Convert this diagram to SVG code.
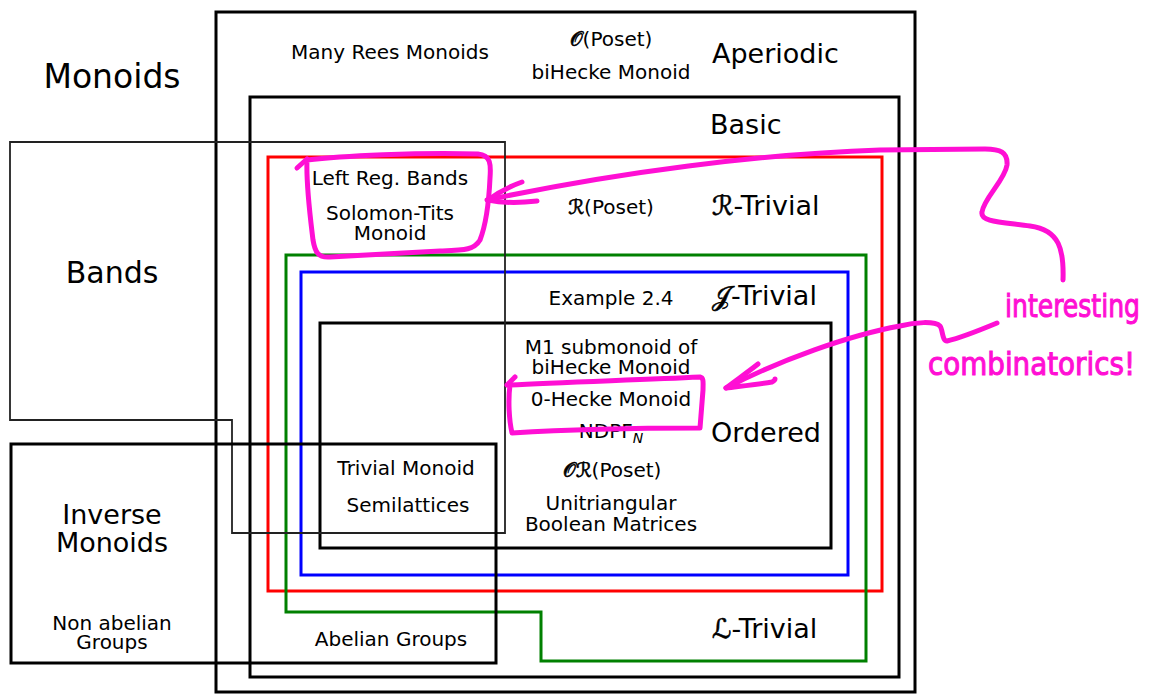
<svg xmlns="http://www.w3.org/2000/svg" width="1155" height="694" viewBox="0 0 1155 694">
<style>
 text { font-family: "DejaVu Sans", "Noto Sans", sans-serif; fill: #000; }
 .s { font-size: 20px; text-anchor: middle; }
 .l { font-size: 27px; }
 .m { text-anchor: middle; }
 .cal { stroke: #000; stroke-width: 0.6; }
 .box { fill: none; stroke: #000; stroke-width: 3; }
 .thin { fill: none; stroke: #222; stroke-width: 1.8; }
 .hand { fill: none; stroke: #ff0fd4; stroke-width: 5; stroke-linecap: round; stroke-linejoin: round; }
 .hw { font-family: "Liberation Sans Narrow", "DejaVu Sans Condensed", sans-serif; fill: #ff0fd4; stroke: #ff0fd4; stroke-width: 1; font-size: 32px; }
</style>
<rect width="1155" height="694" fill="#fff"/>

<g id="universe">
 <text class="m" x="112" y="88" font-size="33">Monoids</text>
</g>

<g id="aperiodic">
 <rect class="box" x="216" y="12" width="699" height="680"/>
 <text class="s" x="390" y="59">Many Rees Monoids</text>
 <text class="s" x="611" y="46"><tspan class="cal">𝒪</tspan>(Poset)</text>
 <text class="s" x="611" y="79">biHecke Monoid</text>
 <text class="l" x="712" y="63">Aperiodic</text>
</g>

<g id="basic">
 <rect class="box" x="250" y="97" width="649" height="580"/>
 <text class="l" x="710" y="134">Basic</text>
</g>

<g id="r-trivial">
 <rect x="268" y="157" width="614" height="434" fill="none" stroke="#ff0000" stroke-width="3"/>
 <text class="s" x="390" y="185">Left Reg. Bands</text>
 <text class="s" x="390" y="220">Solomon-Tits</text>
 <text class="s" x="390" y="240">Monoid</text>
 <text class="s" x="611" y="214"><tspan class="cal">ℛ</tspan>(Poset)</text>
 <text class="l" x="712" y="215"><tspan class="cal">ℛ</tspan>-Trivial</text>
</g>

<g id="l-trivial">
 <path d="M286,255 H866 V661 H541 V612 H286 Z" fill="none" stroke="#008000" stroke-width="3"/>
 <text class="l" x="712" y="638"><tspan class="cal">ℒ</tspan>-Trivial</text>
</g>

<g id="j-trivial">
 <rect x="301" y="272" width="547" height="303" fill="none" stroke="#0000ff" stroke-width="3"/>
 <text class="s" x="611" y="305">Example 2.4</text>
 <text class="l" x="712" y="305"><tspan class="cal">𝒥</tspan>-Trivial</text>
</g>

<g id="ordered">
 <rect class="box" x="320" y="323" width="511" height="225"/>
 <text class="s" x="611" y="354">M1 submonoid of</text>
 <text class="s" x="611" y="374">biHecke Monoid</text>
 <text class="s" x="611" y="406">0-Hecke Monoid</text>
 <text class="s" x="611" y="438">NDPF<tspan font-size="14" font-style="italic" dy="5">N</tspan></text>
 <text class="l" x="711" y="442">Ordered</text>
 <text class="s" x="612" y="477"><tspan class="cal">𝒪ℛ</tspan>(Poset)</text>
 <text class="s" x="611" y="510">Unitriangular</text>
 <text class="s" x="611" y="531">Boolean Matrices</text>
</g>

<g id="bands">
 <path class="thin" d="M10,142 H505 V533 H232 V420 H10 Z"/>
 <text class="m" x="112" y="283" font-size="30">Bands</text>
</g>

<g id="inverse">
 <rect class="box" x="11" y="444" width="485" height="219"/>
 <text class="l m" x="112" y="524">Inverse</text>
 <text class="l m" x="112" y="552">Monoids</text>
 <text class="s" x="112" y="630">Non abelian</text>
 <text class="s" x="112" y="649">Groups</text>
 <text class="s" x="406" y="475">Trivial Monoid</text>
 <text class="s" x="408" y="512">Semilattices</text>
 <text class="s" x="391" y="646">Abelian Groups</text>
</g>

<g id="connectors">
 <path class="hand" d="M297,168 L307,159"/>
 <path class="hand" d="M307,160 C340,156 420,152 478,154 C491,155 491,165 490,178 C489,200 487,222 480,240 C474,250 465,250 440,251 L330,257 C318,258 315,252 313,240 C310,215 306,185 307,160"/>
 <path class="hand" d="M1063,280 C1064,250 1060,230 1030,226 C1000,222 980,222 982,212 C984,198 1005,180 1007,165 C1008,152 1000,149 985,149 L880,150 C760,154 620,172 487,200"/>
 <path class="hand" d="M522,182 C508,187 496,194 488,200 C502,203 520,203 537,201"/>
 <path class="hand" d="M507,385 L515,377"/>
 <path class="hand" d="M510,385 C560,382 640,380 700,377 C704,378 703,382 703,390 L700,428 C640,428 560,430 512,433 C509,420 508,400 510,385"/>
 <path class="hand" d="M997,323 C985,328 960,338 947,341 C942,341 943,330 940,326 C935,321 915,322 900,326 C850,335 780,360 726,388"/>
 <path class="hand" d="M758,364 C748,372 735,381 726,388 C742,386 760,384 772,382 C774,381 775,380 775,379"/>
 <text class="hw" x="1005" y="317" textLength="135" lengthAdjust="spacingAndGlyphs">interesting</text>
 <text class="hw" x="928" y="375" textLength="207" lengthAdjust="spacingAndGlyphs">combinatorics!</text>
</g>
</svg>
